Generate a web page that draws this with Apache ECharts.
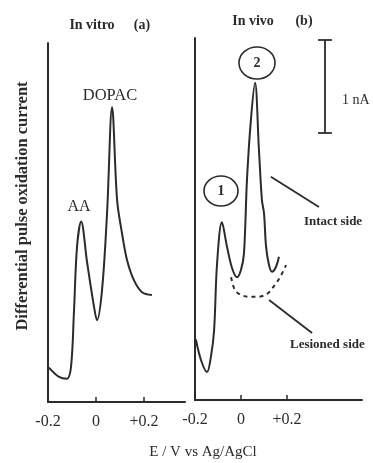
<!DOCTYPE html>
<html><head><meta charset="utf-8">
<script src="https://cdn.jsdelivr.net/npm/echarts@6/dist/echarts.min.js"></script>
<style>html,body{margin:0;padding:0;background:#fff}#c{width:373px;height:463px}</style>
</head><body><div id="c"></div>
<script>
// Potentials (V vs Ag/AgCl) and currents (nA)
const vitroE = [-0.196,-0.154,-0.121,-0.104,-0.092,-0.079,-0.062,-0.037,-0.008,0.004,0.025,0.046,0.067,0.088,0.108,0.129,0.158,0.192,0.233];
const vitroI = [0.37,0.27,0.25,0.38,0.96,1.67,1.94,1.50,1.02,0.88,1.20,2.03,3.17,2.17,1.82,1.53,1.31,1.18,1.15];
const intactE = [-0.196,-0.174,-0.148,-0.130,-0.117,-0.104,-0.083,-0.061,-0.039,-0.017,0.0,0.013,0.026,0.043,0.061,0.078,0.091,0.100,0.109,0.122,0.135,0.152,0.165];
const intactI = [0.65,0.43,0.30,0.48,0.75,1.47,1.91,1.65,1.42,1.32,1.40,1.58,2.37,3.01,3.41,2.69,2.15,2.01,1.65,1.45,1.38,1.43,1.54];
const lesionE = [-0.043,-0.026,0.0,0.035,0.070,0.113,0.148,0.174,0.196];
const lesionI = [1.32,1.18,1.13,1.11,1.11,1.14,1.24,1.34,1.45];
const tickValues = [-0.2, 0, 0.2];

const zip = (a,b)=>a.map((v,i)=>[v,b[i]]);
const FONT = '"Liberation Serif", "DejaVu Serif", serif';
const INK = '#2b2b2b';
const tickFmt = v => Math.abs(v) < 1e-9 ? '0' : (v > 0 ? '+' + v.toFixed(1) : v.toFixed(1));

function xAx(idx, max){
  return {gridIndex: idx, type:'value', min:-0.2, max:max,
    axisLine:{show:true, onZero:false, lineStyle:{color:INK, width:2}},
    axisTick:{show:true, inside:true, length:5, customValues:tickValues, lineStyle:{color:INK, width:1.5}},
    axisLabel:{show:true, customValues:tickValues, formatter:tickFmt, color:INK, fontFamily:FONT, fontSize:16, margin:12},
    splitLine:{show:false}};
}
function yAx(idx, max){
  return {gridIndex: idx, type:'value', min:0, max:max,
    axisLine:{show:true, onZero:false, lineStyle:{color:INK, width:2}},
    axisTick:{show:false}, axisLabel:{show:false}, splitLine:{show:false}};
}
const lineCommon = {type:'line', showSymbol:false, smooth:0.35, lineStyle:{color:INK, width:2}};
const ml = (a,b)=>[{coord:a},{coord:b}];
const txt = (x,y,text,font,align)=>({type:'text', x:x, y:y, style:{text:text, font:font+' '+FONT, fill:INK, align:align||'center', verticalAlign:'middle'}});

const chart = echarts.init(document.getElementById('c'));
chart.setOption({
  backgroundColor:'#fff',
  animation:false,
  grid:[
    {left:48, top:43, width:137, height:359},
    {left:195, top:38, width:167, height:362}
  ],
  xAxis:[xAx(0, -0.2+137/240), xAx(1, -0.2+167/230)],
  yAxis:[yAx(0, 359/93), yAx(1, 362/93)],
  series:[
    Object.assign({}, lineCommon, {name:'In vitro', xAxisIndex:0, yAxisIndex:0, data:zip(vitroE, vitroI)}),
    Object.assign({}, lineCommon, {name:'Intact side', xAxisIndex:1, yAxisIndex:1, data:zip(intactE, intactI),
      markLine:{silent:true, symbol:['none','none'], label:{show:false}, lineStyle:{color:INK, width:1.8, type:'solid'},
        data:[
          ml([0.365,2.87],[0.365,3.87]),
          ml([0.335,2.87],[0.395,2.87]),
          ml([0.335,3.87],[0.395,3.87]),
          ml([0.130,2.40],[0.339,2.075]),
          ml([0.122,1.075],[0.309,0.72])
        ]}}),
    Object.assign({}, lineCommon, {name:'Lesioned side', xAxisIndex:1, yAxisIndex:1, data:zip(lesionE, lesionI),
      lineStyle:{color:INK, width:2, type:[4,4]}})
  ],
  graphic:[
    {type:'text', x:23, y:206, rotation:Math.PI/2, style:{text:'Differential pulse oxidation current', font:'bold 16.5px '+FONT, fill:INK, align:'center', verticalAlign:'middle'}},
    txt(92, 25, 'In vitro', 'bold 14px'),
    txt(142, 25, '(a)', 'bold 14px'),
    txt(253, 21, 'In vivo', 'bold 14px'),
    txt(304, 21, '(b)', 'bold 14px'),
    txt(110, 96, 'DOPAC', '16.5px'),
    txt(79, 207, 'AA', '16px'),
    {type:'ellipse', shape:{cx:257, cy:63, rx:18, ry:16}, style:{fill:'none', stroke:INK, lineWidth:1.6}},
    txt(257, 63, '2', 'bold 14px'),
    {type:'ellipse', shape:{cx:221, cy:191, rx:17, ry:15}, style:{fill:'none', stroke:INK, lineWidth:1.6}},
    txt(221, 191, '1', 'bold 14px'),
    txt(342, 100, '1 nA', '14px', 'left'),
    txt(304, 222, 'Intact side', 'bold 13px', 'left'),
    txt(290, 345, 'Lesioned side', 'bold 13px', 'left'),
    txt(203, 452, 'E / V vs Ag/AgCl', '15px')
  ]
});
</script></body></html>
